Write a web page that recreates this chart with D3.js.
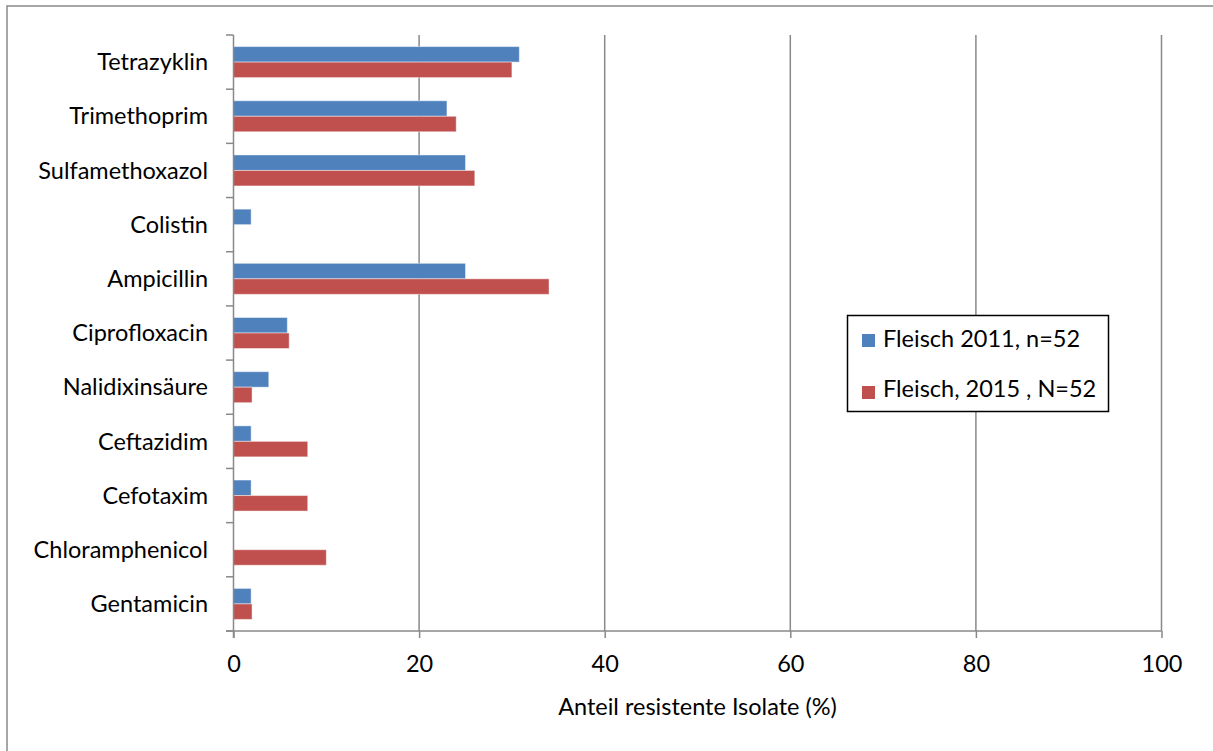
<!DOCTYPE html>
<html>
<head>
<meta charset="utf-8">
<script src="https://cdn.jsdelivr.net/npm/d3@7"></script>
<style>
  html, body { margin: 0; padding: 0; background: #fff; }
  svg { display: block; }
  text { font-family: Lato, "Open Sans", sans-serif; fill: #000; }
</style>
</head>
<body>
<svg id="chart" width="1213" height="751"></svg>
<script>
const categories = ["Tetrazyklin","Trimethoprim","Sulfamethoxazol","Colistin","Ampicillin","Ciprofloxacin","Nalidixinsäure","Ceftazidim","Cefotaxim","Chloramphenicol","Gentamicin"];
const seriesNames = ["Fleisch 2011, n=52", "Fleisch, 2015 , N=52"];
const values2011 = [30.8, 23, 25, 1.9, 25, 5.8, 3.8, 1.9, 1.9, 0, 1.9];
const values2015 = [30, 24, 26, 0, 34, 6, 2, 8, 8, 10, 2];
const xTicks = [0, 20, 40, 60, 80, 100];
const colors = ["#4F81BD", "#C0504D"];

(function () {
const svg = d3.select("#chart");
const pLeft = 233.5, pRight = 1161.5, pTop = 35, pBottom = 631;
const gridColor = "#898989";
const fs = 23.5;

// outer border
svg.append("rect").attr("x", 7).attr("y", 6).attr("width", 1220).attr("height", 760)
  .attr("fill", "none").attr("stroke", gridColor).attr("stroke-width", 1.5);

const x = d3.scaleLinear().domain([0, 100]).range([pLeft, pRight]);
const p = 0.428;
const y = d3.scaleBand().domain(categories).range([pTop, pBottom]).paddingInner(p).paddingOuter(p / 2);
const ySub = d3.scaleBand().domain(seriesNames).range([0, y.bandwidth()]);
const step = (pBottom - pTop) / categories.length;

// gridlines
svg.append("g").selectAll("line").data(xTicks.filter(d => d > 0)).join("line")
  .attr("x1", d => x(d)).attr("x2", d => x(d)).attr("y1", pTop).attr("y2", pBottom)
  .attr("stroke", gridColor).attr("stroke-width", 1.5);

// bars
const data = categories.map((c, i) => ({ c, vals: [values2011[i], values2015[i]] }));
const g = svg.append("g").selectAll("g").data(data).join("g")
  .attr("transform", d => `translate(0,${y(d.c)})`);
g.selectAll("rect").data(d => d.vals.map((v, j) => ({ v, s: seriesNames[j], j })).filter(e => e.v > 0)).join("rect")
  .attr("x", x(0)).attr("y", d => ySub(d.s)).attr("width", d => x(d.v) - x(0)).attr("height", ySub.bandwidth())
  .attr("fill", d => colors[d.j]).attr("stroke", "rgba(255,255,255,0.45)").attr("stroke-width", 1);

// x axis
const xAxis = d3.axisBottom(x).tickValues(xTicks).tickSize(7).tickSizeOuter(0).tickFormat(d3.format("d"));
const xg = svg.append("g").attr("transform", `translate(0,${pBottom})`).call(xAxis);
xg.select(".domain").remove();
xg.selectAll(".tick line").attr("stroke", gridColor).attr("stroke-width", 1.5);
xg.selectAll(".tick text").attr("font-size", fs).attr("font-family", "Lato").attr("fill", "#000").attr("dy", 0).attr("y", 41);
svg.append("line").attr("x1", 226).attr("x2", pRight).attr("y1", pBottom).attr("y2", pBottom)
  .attr("stroke", gridColor).attr("stroke-width", 1.5);

// y axis
svg.append("line").attr("x1", pLeft).attr("x2", pLeft).attr("y1", pTop).attr("y2", pBottom + 7)
  .attr("stroke", gridColor).attr("stroke-width", 1.5);
svg.append("g").selectAll("line").data(d3.range(categories.length + 1)).join("line")
  .attr("x1", 226).attr("x2", pLeft).attr("y1", i => pTop + i * step).attr("y2", i => pTop + i * step)
  .attr("stroke", gridColor).attr("stroke-width", 1.5);
svg.append("g").selectAll("text").data(categories).join("text")
  .attr("x", 208).attr("y", d => y(d) + y.bandwidth() / 2).attr("dy", "0.35em")
  .attr("text-anchor", "end").attr("font-size", fs).text(d => d);

// axis title
svg.append("text").attr("x", (pLeft + pRight) / 2).attr("y", 715).attr("text-anchor", "middle")
  .attr("font-size", fs).text("Anteil resistente Isolate (%)");

// legend
const lg = svg.append("g");
lg.append("rect").attr("x", 847.5).attr("y", 315.5).attr("width", 261).attr("height", 96)
  .attr("fill", "#fff").attr("stroke", "#000").attr("stroke-width", 1.5);
const items = lg.selectAll("g").data(seriesNames).join("g");
items.append("rect").attr("x", 862).attr("y", (d, i) => 334 + i * 52).attr("width", 13).attr("height", 13)
  .attr("fill", (d, i) => colors[i]);
items.append("text").attr("x", 883).attr("y", (d, i) => 347 + i * 50).attr("font-size", fs).text(d => d);
})();
</script>
</body>
</html>
